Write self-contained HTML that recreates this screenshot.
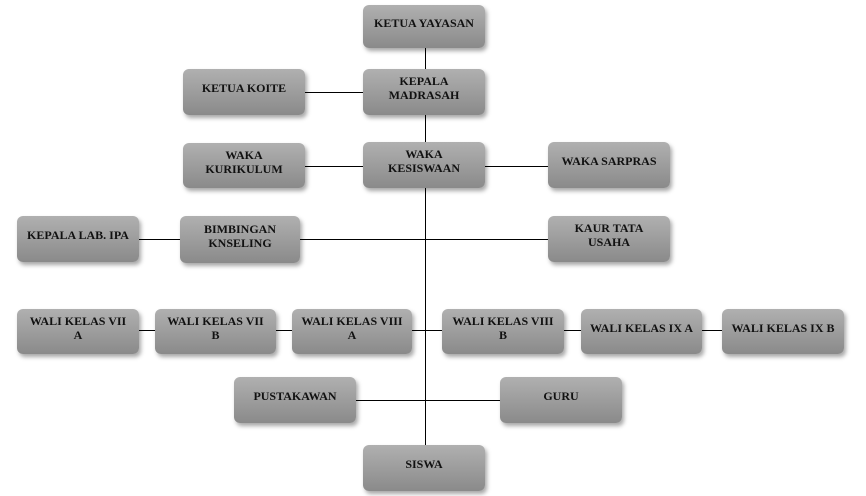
<!DOCTYPE html>
<html><head><style>
body{margin:0;width:866px;height:496px;background:#fff;position:relative;overflow:hidden;font-family:"Liberation Serif",serif;}
.b{position:absolute;box-sizing:border-box;border-radius:6px;background:linear-gradient(#b0b0b0,#8a8a8a);box-shadow:2px 3px 4px rgba(0,0,0,0.35);display:flex;align-items:center;justify-content:center;text-align:center;font-weight:bold;font-size:12px;line-height:14px;color:#111;padding:0 4px 8px;}
.l{position:absolute;background:#000;}
</style></head><body>
<div class="l" style="left:425px;top:48px;width:1px;height:397px"></div>
<div class="l" style="left:305px;top:92px;width:58px;height:1px"></div>
<div class="l" style="left:305px;top:166px;width:58px;height:1px"></div>
<div class="l" style="left:485px;top:166px;width:63px;height:1px"></div>
<div class="l" style="left:139px;top:239px;width:41px;height:1px"></div>
<div class="l" style="left:300px;top:239px;width:248px;height:1px"></div>
<div class="l" style="left:139px;top:330px;width:16px;height:1px"></div>
<div class="l" style="left:276px;top:330px;width:16px;height:1px"></div>
<div class="l" style="left:412px;top:330px;width:30px;height:1px"></div>
<div class="l" style="left:564px;top:330px;width:17px;height:1px"></div>
<div class="l" style="left:702px;top:330px;width:20px;height:1px"></div>
<div class="l" style="left:356px;top:400px;width:144px;height:1px"></div>

<div class="b" style="left:363px;top:5px;width:122px;height:43px">KETUA YAYASAN</div>
<div class="b" style="left:363px;top:69px;width:122px;height:46px">KEPALA<br>MADRASAH</div>
<div class="b" style="left:183px;top:69px;width:122px;height:46px">KETUA KOITE</div>
<div class="b" style="left:183px;top:143px;width:122px;height:45px">WAKA<br>KURIKULUM</div>
<div class="b" style="left:363px;top:142px;width:122px;height:46px">WAKA<br>KESISWAAN</div>
<div class="b" style="left:548px;top:142px;width:122px;height:46px">WAKA SARPRAS</div>
<div class="b" style="left:17px;top:216px;width:122px;height:46px">KEPALA LAB. IPA</div>
<div class="b" style="left:180px;top:216px;width:120px;height:47px">BIMBINGAN<br>KNSELING</div>
<div class="b" style="left:548px;top:216px;width:122px;height:46px">KAUR TATA<br>USAHA</div>
<div class="b" style="left:17px;top:309px;width:122px;height:45px">WALI KELAS VII<br>A</div>
<div class="b" style="left:155px;top:309px;width:121px;height:45px">WALI KELAS VII<br>B</div>
<div class="b" style="left:292px;top:309px;width:120px;height:45px">WALI KELAS VIII<br>A</div>
<div class="b" style="left:442px;top:309px;width:122px;height:45px">WALI KELAS VIII<br>B</div>
<div class="b" style="left:581px;top:309px;width:121px;height:45px">WALI KELAS IX A</div>
<div class="b" style="left:722px;top:309px;width:122px;height:45px">WALI KELAS IX B</div>
<div class="b" style="left:234px;top:377px;width:122px;height:46px">PUSTAKAWAN</div>
<div class="b" style="left:500px;top:377px;width:122px;height:46px">GURU</div>
<div class="b" style="left:363px;top:445px;width:122px;height:46px">SISWA</div>
</body></html>
